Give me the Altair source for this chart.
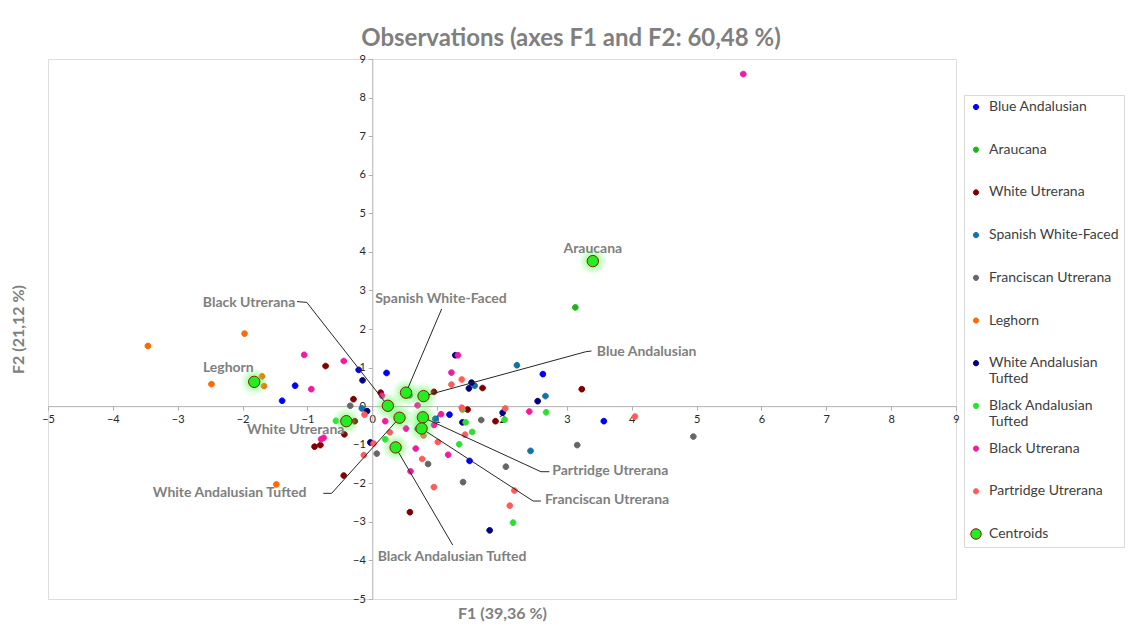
import altair as alt
import pandas as pd

# ---- observation scores on F1 / F2, one pair of lists per breed ----
blue_andalusian_x = [-1.39, -1.19, -0.21, 0.22, 1.19, 1.50, 2.63, 3.57]
blue_andalusian_y = [0.14, 0.53, 0.94, 0.86, -0.22, -1.42, 0.83, -0.39]

araucana_x = [3.13]
araucana_y = [2.56]

white_utrerana_x = [-0.72, -0.29, 0.13, -0.27, -0.43, -0.89, -0.80, -0.44, 0.58, 0.95, 1.70, 1.47, 1.90, 3.23]
white_utrerana_y = [1.04, 0.18, 0.35, -0.39, -0.73, -1.05, -1.01, -1.80, -2.75, 0.37, 0.47, -0.09, -0.39, 0.44]

spanish_white_faced_x = [-0.16, 0.70, 0.97, 1.58, 2.23, 2.67, 2.44]
spanish_white_faced_y = [-0.06, -0.59, -0.33, 0.53, 1.06, 0.26, -1.16]

franciscan_utrerana_x = [-0.34, 0.07, 0.58, 0.86, 1.40, 1.68, 2.06, 3.16, 4.95]
franciscan_utrerana_y = [0.01, -1.23, 0.28, -1.50, -1.97, -0.36, -1.57, -1.01, -0.79]

leghorn_x = [-3.46, -1.97, -2.48, -1.70, -1.67, -1.48]
leghorn_y = [1.56, 1.88, 0.57, 0.77, 0.52, -2.03]

white_andalusian_tufted_x = [-0.15, -0.08, -0.03, 1.28, 1.53, 1.49, 1.39, 2.01, 2.55, 1.81]
white_andalusian_tufted_y = [0.67, -0.13, -0.94, 1.32, 0.61, 0.46, -0.42, -0.17, 0.13, -3.22]

black_andalusian_tufted_x = [-0.56, 0.20, 1.39, 1.44, 1.54, 1.34, 2.04, 2.68, 2.17]
black_andalusian_tufted_y = [-0.38, -0.86, -0.09, -0.42, -0.67, -0.99, -0.35, -0.16, -3.02]

black_utrerana_x = [-1.05, -0.44, -0.94, 0.15, 0.20, 0.70, 0.52, -0.75, -0.79, 0.67, 0.59, 0.95, 1.06, 1.17, 1.22, 1.32, 2.42, 5.72]
black_utrerana_y = [1.33, 1.17, 0.44, 0.27, -0.39, 0.02, -0.58, -0.82, -0.86, -1.10, -1.69, -0.49, -0.21, -1.26, 0.87, 1.32, -0.14, 8.61]

partridge_utrerana_x = [-0.12, 0.02, -0.13, 0.27, 0.79, 0.77, 0.95, 1.01, 1.43, 1.38, 1.22, 1.38, 2.05, 2.19, 2.12, 4.05]
partridge_utrerana_y = [-0.22, -0.97, -1.27, -0.68, -0.76, -1.37, -2.10, -0.93, -0.74, -0.04, 0.56, 0.69, -0.06, -2.19, -2.58, -0.27]

# ---- class centroids ----
centroid_names = ["Araucana", "Leghorn", "White Utrerana", "Black Utrerana", "White Andalusian Tufted",
                  "Black Andalusian Tufted", "Spanish White-Faced", "Blue Andalusian",
                  "Partridge Utrerana", "Franciscan Utrerana"]
centroid_x = [3.40, -1.82, -0.40, 0.24, 0.42, 0.36, 0.52, 0.79, 0.78, 0.76]
centroid_y = [3.76, 0.63, -0.39, 0.01, -0.30, -1.07, 0.35, 0.26, -0.29, -0.58]

# ---- centroid label positions (data units) ----
label_x = [3.40, -2.22, -1.18, -1.90, -2.20, 1.23, 1.06, 4.23, 3.67, 3.62]
label_y = [4.07, 0.99, -0.62, 2.67, -2.25, -3.91, 2.78, 1.40, -1.68, -2.43]

# leader lines: breed -> bend points before reaching the centroid
leader_points = {
    "Black Utrerana": [(-1.16, 2.71), (-1.01, 2.69)],
    "Spanish White-Faced": [(1.07, 2.52)],
    "Blue Andalusian": [(3.38, 1.43), (3.29, 1.41)],
    "Partridge Utrerana": [(2.73, -1.70), (2.60, -1.70)],
    "Franciscan Utrerana": [(2.60, -2.46), (2.48, -2.46)],
    "White Andalusian Tufted": [(-0.755, -2.26), (-0.626, -2.26)],
    "Black Andalusian Tufted": [(1.24, -3.60)],
}

series_names = ["Blue Andalusian", "Araucana", "White Utrerana", "Spanish White-Faced",
                "Franciscan Utrerana", "Leghorn", "White Andalusian Tufted",
                "Black Andalusian Tufted", "Black Utrerana", "Partridge Utrerana", "Centroids"]
series_colors = ["#0000FF", "#1DB41D", "#800000", "#1470A6", "#666666", "#FF6A00",
                 "#000080", "#2EE02E", "#F21BA0", "#FF5B5B", "#22EE22"]
series_strokes = series_colors[:-1] + ["#8B1A00"]


def circle_path(r):
    return f"M{-r},0A{r},{r} 0 1,1 {r},0A{r},{r} 0 1,1 {-r},0Z"


# observations are drawn at half the diameter of the centroids
series_shapes = [circle_path(0.5)] * 10 + [circle_path(1)]

obs_lists = [
    (blue_andalusian_x, blue_andalusian_y),
    (araucana_x, araucana_y),
    (white_utrerana_x, white_utrerana_y),
    (spanish_white_faced_x, spanish_white_faced_y),
    (franciscan_utrerana_x, franciscan_utrerana_y),
    (leghorn_x, leghorn_y),
    (white_andalusian_tufted_x, white_andalusian_tufted_y),
    (black_andalusian_tufted_x, black_andalusian_tufted_y),
    (black_utrerana_x, black_utrerana_y),
    (partridge_utrerana_x, partridge_utrerana_y),
]

rows = []
for name, (xs, ys) in zip(series_names, obs_lists):
    for xv, yv in zip(xs, ys):
        rows.append({"F1": xv, "F2": yv, "series": name})
obs = pd.DataFrame(rows)

cent = pd.DataFrame({"F1": centroid_x, "F2": centroid_y, "series": "Centroids", "name": centroid_names})
labels = pd.DataFrame({"F1": label_x, "F2": label_y, "text": centroid_names})

line_rows = []
cent_lookup = dict(zip(centroid_names, zip(centroid_x, centroid_y)))
for name, pts in leader_points.items():
    full = pts + [cent_lookup[name]]
    for i, (xv, yv) in enumerate(full):
        line_rows.append({"F1": xv, "F2": yv, "name": name, "step": i})
leaders = pd.DataFrame(line_rows)

FONT = "Lato"
ticks = list(range(-5, 10))
W, H = 908, 540
x_scale = alt.Scale(domain=[-5, 9], nice=False, zero=False)
y_scale = alt.Scale(domain=[-5, 9], nice=False, zero=False)

# axes cross at the origin
x_off = -H * 5 / 14
y_off = -W * 5 / 14

x_axis = alt.Axis(values=ticks, format="d", offset=x_off, grid=False, labelFlush=False, labelOverlap=False,
                  title="F1 (39,36 %)", titleY=207, titleBaseline="middle",
                  titleFont=FONT, titleFontSize=16, titleFontWeight="bold", titleColor="#7F7F7F",
                  labelFont=FONT, labelFontSize=11, labelColor="#262626", labelPadding=3,
                  domainColor="#B0B0B0", tickColor="#B0B0B0", tickSize=4)
y_axis = alt.Axis(values=ticks, format="d", offset=y_off, grid=False, labelFlush=False, labelOverlap=False,
                  title="F2 (21,12 %)", titleX=-354, titleBaseline="middle",
                  titleFont=FONT, titleFontSize=16, titleFontWeight="bold", titleColor="#7F7F7F",
                  labelFont=FONT, labelFontSize=11, labelColor="#262626", labelPadding=3,
                  domainColor="#B0B0B0", tickColor="#B0B0B0", tickSize=4)

legend = alt.Legend(
    title=None, orient="none", legendX=916, legendY=36,
    strokeColor="#D9D9D9", fillColor="white", padding=5,
    labelFont=FONT, labelFontSize=14, labelColor="#404040", labelLimit=200,
    labelExpr="datum.label == 'White Andalusian Tufted' ? ['White Andalusian', 'Tufted'] : "
              "datum.label == 'Black Andalusian Tufted' ? ['Black Andalusian', 'Tufted'] : datum.label",
    labelOffset=6, rowPadding=11.7, gridAlign="all", symbolSize=110, symbolStrokeWidth=1,
)

color_enc = alt.Color("series:N", scale=alt.Scale(domain=series_names, range=series_colors), legend=legend)
stroke_enc = alt.Stroke("series:N", scale=alt.Scale(domain=series_names, range=series_strokes), legend=legend)
shape_enc = alt.Shape("series:N", scale=alt.Scale(domain=series_names, range=series_shapes), legend=legend)

# every layer carries the same axis definition so they merge cleanly
X = alt.X("F1:Q", scale=x_scale, axis=x_axis)
Y = alt.Y("F2:Q", scale=y_scale, axis=y_axis)

points = alt.Chart(obs).mark_point(filled=True, opacity=1, strokeWidth=1, size=130).encode(
    x=X, y=Y, color=color_enc, stroke=stroke_enc, shape=shape_enc,
)

glow_layers = [
    alt.Chart(cent).mark_circle(color="#5CFF5C", opacity=op, size=sz).encode(x=X, y=Y)
    for sz, op in [(700, 0.10), (480, 0.15), (300, 0.22)]
]

leader_lines = alt.Chart(leaders).mark_line(color="#262626", strokeWidth=1).encode(
    x=X, y=Y, detail="name:N", order="step:Q",
)

centroids = alt.Chart(cent).mark_point(filled=True, opacity=1, strokeWidth=1, size=130).encode(
    x=X, y=Y, color=color_enc, stroke=stroke_enc, shape=shape_enc,
)

label_text = alt.Chart(labels).mark_text(font=FONT, fontSize=14, fontWeight="bold", color="#7F7F7F",
                                         align="center", baseline="middle").encode(
    x=X, y=Y, text="text:N",
)

chart = alt.layer(points, *glow_layers, leader_lines, centroids, label_text).properties(
    width=W, height=H,
    title=alt.TitleParams("Observations (axes F1 and F2: 60,48 %)", font=FONT, fontSize=24,
                          fontWeight="bold", color="#7F7F7F", frame="group", dx=69, offset=2),
    padding={"left": 48, "top": 59, "right": 181, "bottom": 29},
    autosize="none",
).configure_view(stroke="#D9D9D9", strokeWidth=1).configure(background="white")

chart.save("out.html", embed_options={"renderer": "svg", "actions": False})
